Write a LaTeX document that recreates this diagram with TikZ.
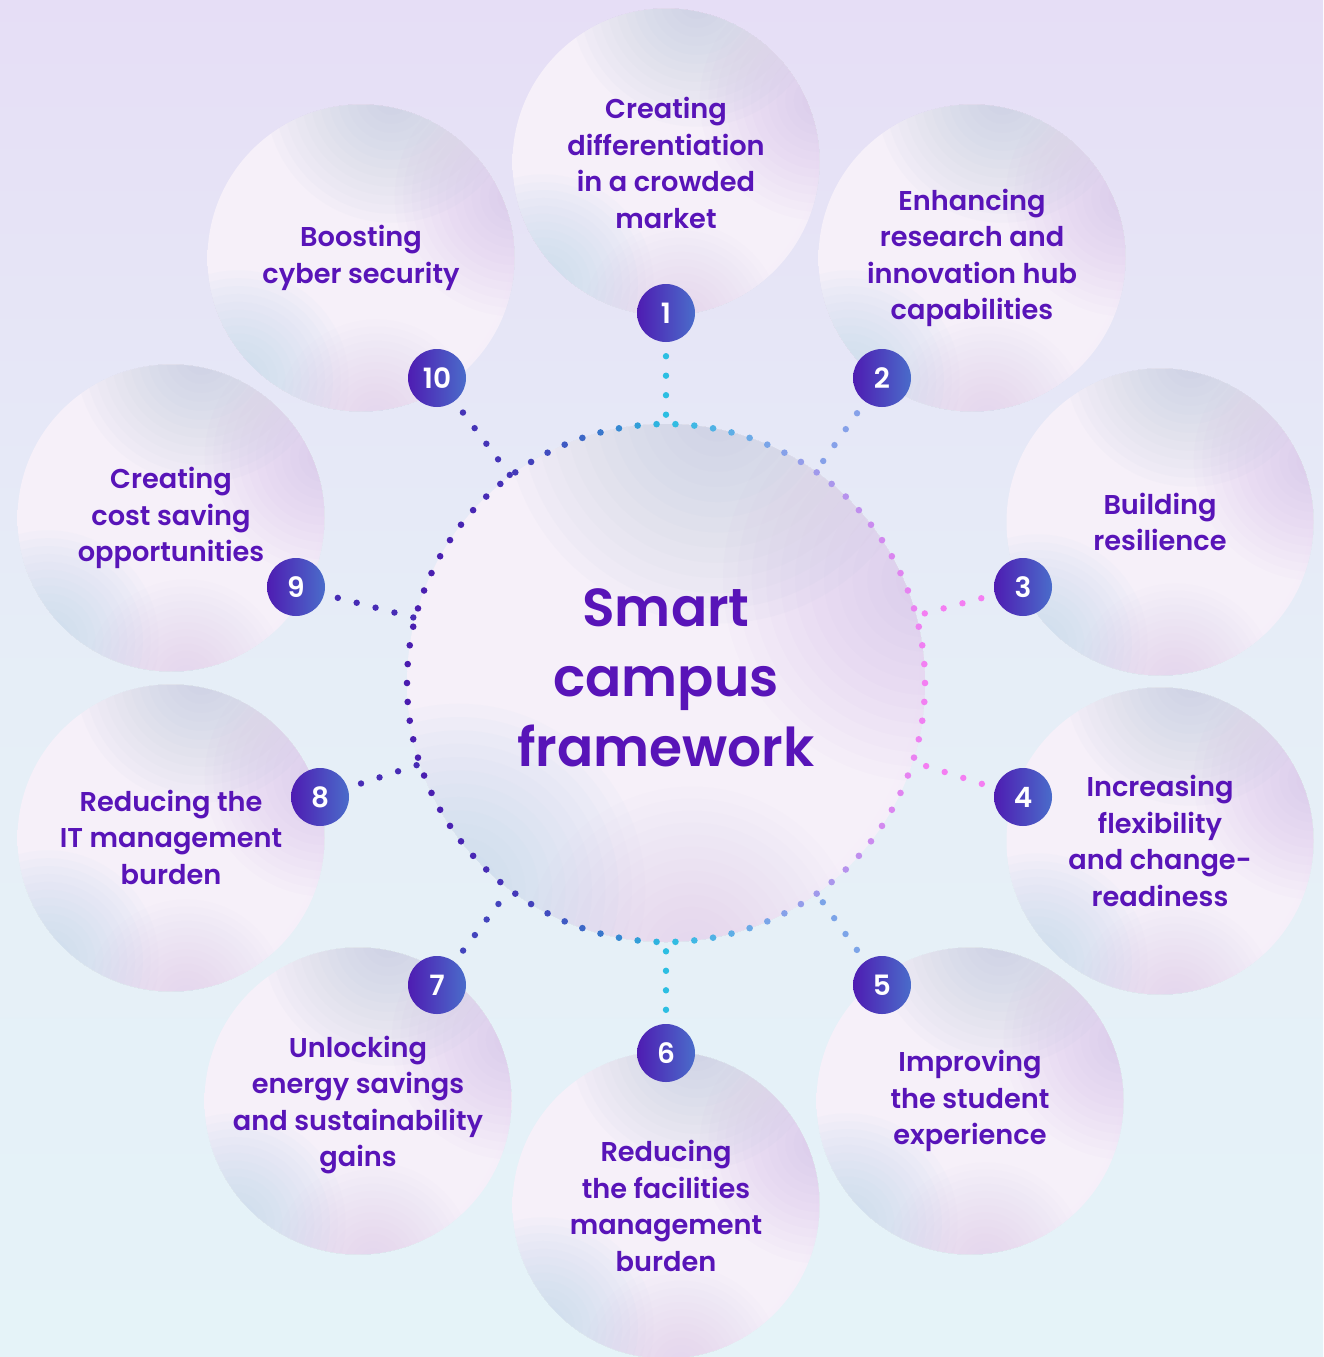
\documentclass[tikz,border=0pt]{standalone}
\usepackage{fontspec}
\setmainfont{Poppins SemiBold}
\usetikzlibrary{calc}

\definecolor{ink}{HTML}{5814B8}
\definecolor{bgtop}{HTML}{E6DEF6}
\definecolor{bgmid}{HTML}{E6EEF7}
\definecolor{bgbot}{HTML}{E5F3F8}
\definecolor{bubA}{HTML}{F6F0F9}
\definecolor{bubB}{HTML}{F1E9F7}
\definecolor{bubC}{HTML}{E9DEF3}
\definecolor{tintgrey}{HTML}{B0C0D8}
\definecolor{tintpurple}{HTML}{C8AEE6}
\definecolor{tintblue}{HTML}{B2D3EE}
\definecolor{tintlav}{HTML}{D0BCEE}
\definecolor{badgeL}{HTML}{4E1CB2}
\definecolor{badgeR}{HTML}{4A6CCA}
\definecolor{dotcyan}{HTML}{2CBEE2}
\definecolor{dotpink}{HTML}{F47EF2}
\definecolor{dotpurple}{HTML}{4A1CB0}

% soft bubble fill: light centre, pale lavender rim
\pgfdeclareradialshading{bubble}{\pgfpoint{-6bp}{4bp}}{%
  color(0bp)=(bubA); color(26bp)=(bubA); color(42bp)=(bubB); color(50bp)=(bubC)}

% soft round glow built from stacked translucent discs
% #1 centre, #2 radius, #3 colour, #4 opacity of each layer
\newcommand\glow[4]{%
  \foreach \k in {1,...,14}{\fill[#3, fill opacity=#4] #1 circle ({#2*\k/14});}}

% iridescent rim tints for a bubble node #1 of radius #2
\newcommand\sheen[2]{%
  \begin{scope}
    \clip (#1.center) circle (#2);
    \glow{([shift={(0.2*#2,-1.05*#2)}]#1.center)}{0.82*#2}{tintgrey}{0.046}
    \glow{([shift={(1.0*#2,-0.4*#2)}]#1.center)}{0.78*#2}{tintpurple}{0.045}
    \glow{([shift={(-0.8*#2,0.8*#2)}]#1.center)}{0.72*#2}{tintblue}{0.052}
    \glow{([shift={(0.1*#2,1.05*#2)}]#1.center)}{0.65*#2}{tintlav}{0.032}
  \end{scope}}

\begin{document}
\begin{tikzpicture}[x=1pt,y=-1pt,
  bubblestyle/.style={circle, minimum size=307, inner sep=0, shading=bubble},
  hubstyle/.style={circle, minimum size=518, inner sep=0, shading=bubble},
  badge/.style={circle, minimum size=58, inner sep=0, left color=badgeL,
    right color=badgeR, text=white, font=\fontsize{28}{28}\selectfont},
  lab/.style={text=ink, align=center, font=\fontsize{27.2}{36.5}\selectfont},
  conn/.style={line width=6.4pt, line cap=round, dash pattern=on 0pt off 19.5pt,
    shorten <=14pt}]

\useasboundingbox (0,0) rectangle (1323,1357);
\fill[top color=bgtop, bottom color=bgbot, middle color=bgmid] (0,0) rectangle (1323,1357);

% outer bubbles
\node[bubblestyle] (c1) at (666,162) {};
\node[bubblestyle] (c2) at (972,258) {};
\node[bubblestyle] (c3) at (1160,522) {};
\node[bubblestyle] (c4) at (1160,841) {};
\node[bubblestyle] (c5) at (970,1101) {};
\node[bubblestyle] (c6) at (666,1205) {};
\node[bubblestyle] (c7) at (358,1101) {};
\node[bubblestyle] (c8) at (171,838) {};
\node[bubblestyle] (c9) at (171,518) {};
\node[bubblestyle] (c10) at (361,258) {};
\foreach \n in {c1,c2,c3,c4,c5,c6,c7,c8,c9,c10}{\sheen{\n}{153.5}}

% central hub
\node[hubstyle] (hub) at (666,683) {};
\sheen{hub}{259}

% badges
\node[badge] (b1) at (666,313) {1};
\node[badge] (b2) at (882,378) {2};
\node[badge] (b3) at (1023,587) {3};
\node[badge] (b4) at (1023,797) {4};
\node[badge] (b5) at (882,985) {5};
\node[badge] (b6) at (666,1053) {6};
\node[badge] (b7) at (437,985) {7};
\node[badge] (b8) at (320,797) {8};
\node[badge] (b9) at (296,587) {9};
\node[badge] (b10) at (437,378) {10};

% dotted spokes
\draw[conn, color=dotcyan] (b1) -- (hub);
\draw[conn, color=dotpink!45!dotcyan] (b2) -- (hub);
\draw[conn, color=dotpink] (b3) -- (hub);
\draw[conn, color=dotpink] (b4) -- (hub);
\draw[conn, color=dotpink!40!dotcyan] (b5) -- (hub);
\draw[conn, color=dotcyan] (b6) -- (hub);
\draw[conn, color=dotpurple!75!dotcyan] (b7) -- (hub);
\draw[conn, color=dotpurple!90!dotcyan] (b8) -- (hub);
\draw[conn, color=dotpurple!90!dotcyan] (b9) -- (hub);
\draw[conn, color=dotpurple!85!dotcyan] (b10) -- (hub);

% dotted ring around the hub, colour shifting with the angle
\foreach \i in {0,...,85}{
  \pgfmathsetmacro\a{\i*(360/86)}
  \pgfmathsetmacro\cc{cos(\a)}
  \pgfmathsetmacro\ac{abs(\cc)}
  \pgfmathtruncatemacro\pp{100*\ac}
  \pgfmathtruncatemacro\qq{100*(1-(1-\ac)*(1-\ac))}
  \pgfmathtruncatemacro\side{\cc>0 ? 1 : 0}
  \ifnum\side=1 \colorlet{dotc}{dotpink!\pp!dotcyan}\else\colorlet{dotc}{dotpurple!\qq!dotcyan}\fi
  \fill[dotc] (hub.center) ++(\a:259) circle (3.3);
}

% labels
\node[lab] (t1) at (666,163) {Creating\\differentiation\\in a crowded\\market};
\node[lab] (t2) at (972,258) {Enhancing\\research and\\innovation hub\\capabilities};
\node[lab] (t3) at (1160,522) {Building\\resilience};
\node[lab] (t4) at (1160,841) {Increasing\\flexibility\\and change-\\readiness};
\node[lab] (t5) at (970,1101) {Improving\\the student\\experience};
\node[lab] (t6) at (666,1206) {Reducing\\the facilities\\management\\burden};
\node[lab] (t7) at (358,1105) {Unlocking\\energy savings\\and sustainability\\gains};
\node[lab] (t8) at (171,837) {Reducing the\\IT management\\burden};
\node[lab] (t9) at (171,518) {Creating\\cost saving\\opportunities};
\node[lab] (t10) at (361,258) {Boosting\\cyber security};

\node[text=ink, align=center, font=\fontsize{53.5}{70}\selectfont] (title) at (666,678)
  {Smart\\campus\\framework};
\end{tikzpicture}
\end{document}
